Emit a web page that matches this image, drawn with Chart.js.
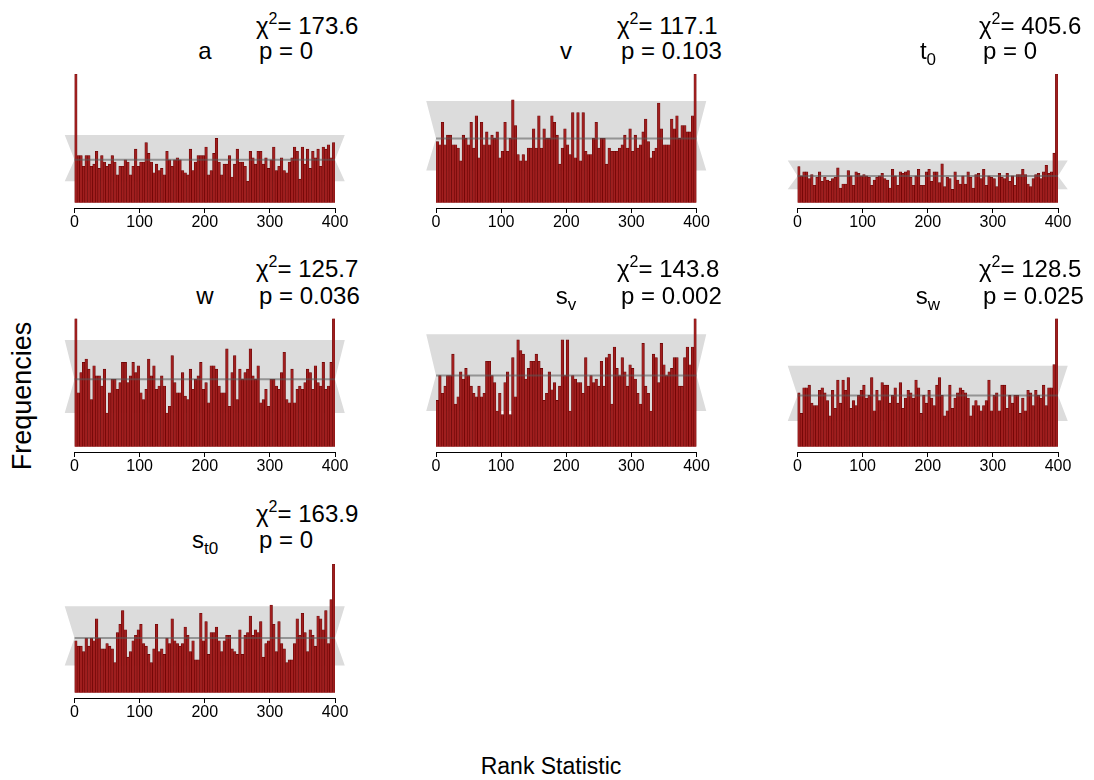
<!DOCTYPE html>
<html>
<head>
<meta charset="utf-8">
<script src="https://cdn.jsdelivr.net/npm/chart.js@4.4.1/dist/chart.umd.min.js"></script>
<style>
  body { margin: 0; background: #fff; }
  #page { position: relative; width: 1094px; height: 780px; background: #fff; overflow: hidden;
          font-family: "Liberation Sans", Arial, sans-serif; color: #000; }
  .cv { position: absolute; }
  .txt { position: absolute; white-space: nowrap; font-size: 24px; line-height: 24px; }
  .ttl { position: absolute; white-space: nowrap; font-size: 24px; line-height: 24px; transform: translateX(-50%); }
  .txt sup { font-size: 16px; vertical-align: 10px; line-height: 0; }
  .ttl sub { font-size: 17px; vertical-align: -6px; line-height: 0; }
  .axlab { position: absolute; white-space: nowrap; line-height: 1; }
</style>
</head>
<body>
<div id="page"></div>
<script>
// rank histogram counts, 100 bins of width 4 over ranks 0..400
const countsA = [60,22,22,17,22,22,17,18,24,16, 22,19,17,18,22,19,13,17,17,20,
  19,13,17,25,17,19,19,28,23,19, 14,18,15,16,13,24,20,17,20,21,
  20,15,14,13,25,15,19,22,22,22, 26,13,15,23,30,19,13,18,18,22,
  12,18,25,19,19,17,10,24,21,18, 24,24,18,21,16,20,26,15,17,21,
  15,14,19,21,26,24,11,26,18,25, 16,24,21,25,17,26,25,27,21,28];
const countsV = [19,18,25,18,21,21,18,18,17,13, 21,20,18,25,17,27,14,25,18,22,
  18,21,20,22,14,16,25,16,20,32, 24,15,13,15,13,17,17,23,17,27,
  17,23,20,20,27,25,21,12,17,23, 18,15,28,14,28,13,28,16,15,15,
  20,25,17,20,20,12,17,16,16,16, 17,18,21,17,23,16,21,17,18,22,
  26,19,14,16,17,31,23,18,18,18, 26,23,27,20,24,24,22,22,27,40];
const countsT0 = [27,20,23,23,18,21,13,19,23,16, 19,17,16,18,19,26,11,14,14,24,
  20,13,23,22,20,21,20,19,13,17, 19,20,22,18,17,11,25,20,13,23,
  22,23,24,19,13,20,25,13,13,23, 25,16,23,23,15,29,12,19,18,10,
  23,17,14,20,14,23,19,11,21,22, 18,25,13,20,19,18,12,22,19,18,
  22,16,20,13,21,21,25,21,14,12, 18,21,22,18,23,28,22,23,37,96];
const countsW = [38,16,22,25,26,23,14,24,21,21, 18,23,10,16,20,20,17,19,25,25,
  19,21,25,22,24,16,14,17,26,21, 24,17,18,21,18,10,12,27,19,16,
  16,22,15,14,23,17,20,21,25,17, 19,13,24,24,23,18,16,16,29,12,
  22,27,14,23,20,22,23,29,21,20, 24,13,14,17,12,20,20,18,17,22,
  28,14,13,23,13,17,18,17,19,23, 22,17,24,19,18,25,17,18,25,38];
const countsSv = [13,20,15,17,20,20,26,12,14,21, 19,22,20,17,15,14,17,14,15,24,
  24,20,18,10,15,9,18,21,9,25, 14,30,27,26,19,22,24,24,26,24,
  22,13,15,21,16,18,13,17,30,20, 30,10,20,19,18,18,15,25,17,20,
  18,19,17,24,17,25,26,12,28,22, 20,25,21,17,23,22,19,15,12,29,
  17,15,10,26,25,18,29,23,20,21, 22,25,25,17,17,25,28,23,28,36];
const countsSw = [21,13,23,23,24,17,16,16,22,23, 21,18,12,22,15,26,17,26,22,27,
  15,18,16,20,22,24,19,20,27,14, 22,18,25,24,24,17,20,23,17,25,
  15,19,22,21,19,26,23,13,20,17, 22,19,16,24,27,20,12,14,24,15,
  19,21,23,22,21,19,12,16,18,16, 14,16,18,26,14,20,21,14,24,24,
  15,20,17,20,20,13,19,14,22,21, 16,22,20,19,24,16,23,23,32,50];
const countsSt0 = [19,17,17,15,20,17,20,19,27,20, 16,16,18,17,16,11,22,25,30,23,
  13,15,19,21,23,25,18,17,14,11, 16,25,15,16,14,20,18,27,19,18,
  17,18,24,21,15,19,12,12,29,19, 26,14,22,22,24,19,15,19,21,21,
  16,15,14,23,14,21,22,28,21,23, 22,26,13,18,19,32,25,15,26,18,
  16,11,12,12,18,27,21,29,22,15, 23,21,17,28,27,23,30,18,34,47];

const binWidth = 4;
const tickLabels = [0, 100, 200, 300, 400];
const panelNames = ['a', 'v', 't<sub>0</sub>', 'w', 's<sub>v</sub>', 's<sub>w</sub>', 's<sub>t0</sub>'];
const chiSq = ['173.6', '117.1', '405.6', '125.7', '143.8', '128.5', '163.9'];
const pValues = ['0', '0.103', '0', '0.036', '0.002', '0.025', '0'];
// uniform expectation and 99% band (counts)
const bandLow = 10, bandMid = 20, bandHigh = 31.6;

const allCounts = [countsA, countsV, countsT0, countsW, countsSv, countsSw, countsSt0];

// layout (pixels)
const colX0 = [74.5, 436, 797.5];
const plotW = 260.5;
const rowTop = [74, 318.5, 564];
const rowBase = [202.3, 447, 692.3];
const rowAxis = [207.5, 452.3, 697.5];
const chiY = [14, 257, 502];
const pY = [39, 284, 528];
const titleX = [205, 566, 928];
const chiX = [256, 617, 979];
const pX = [259, 621, 983];
const FONT = '"Liberation Sans", Arial, sans-serif';
const AXIS_H = 30;

const page = document.getElementById('page');

const bandPlugin = {
  id: 'band',
  beforeDatasetsDraw(chart) {
    const { ctx, scales: { x, y } } = chart;
    ctx.save();
    ctx.fillStyle = '#dcdcdc';
    ctx.beginPath();
    ctx.moveTo(x.getPixelForValue(-15), y.getPixelForValue(bandHigh));
    ctx.lineTo(x.getPixelForValue(0), y.getPixelForValue(bandMid));
    ctx.lineTo(x.getPixelForValue(-15), y.getPixelForValue(bandLow));
    ctx.lineTo(x.getPixelForValue(415), y.getPixelForValue(bandLow));
    ctx.lineTo(x.getPixelForValue(400), y.getPixelForValue(bandMid));
    ctx.lineTo(x.getPixelForValue(415), y.getPixelForValue(bandHigh));
    ctx.closePath();
    ctx.fill();
    ctx.restore();
  },
  afterDatasetsDraw(chart) {
    const { ctx, scales: { x, y } } = chart;
    const yy = y.getPixelForValue(bandMid);
    ctx.save();
    ctx.strokeStyle = 'rgba(90,90,90,0.55)';
    ctx.lineWidth = 2;
    ctx.beginPath();
    ctx.moveTo(x.getPixelForValue(0), yy);
    ctx.lineTo(x.getPixelForValue(400), yy);
    ctx.stroke();
    ctx.restore();
  }
};

function addText(cls, left, top, html) {
  const d = document.createElement('div');
  d.className = cls;
  d.style.left = left + 'px';
  d.style.top = top + 'px';
  d.innerHTML = html;
  page.appendChild(d);
  return d;
}

allCounts.forEach((counts, i) => {
  const col = i % 3, row = Math.floor(i / 3);
  const x0 = colX0[col], top = rowTop[row], base = rowBase[row], axisY = rowAxis[row];
  const yMax = Math.max(...counts);
  const ppc = (base - top) / yMax;
  const yMin = -(axisY - base) / ppc;

  const cLeft = Math.round(x0) - 25;
  const cTop = Math.round(top) - 6;
  const cW = Math.round(plotW) + 50;
  const cH = Math.round(axisY - cTop + AXIS_H);

  const wrap = document.createElement('div');
  wrap.className = 'cv';
  wrap.style.left = cLeft + 'px';
  wrap.style.top = cTop + 'px';
  wrap.style.width = cW + 'px';
  wrap.style.height = cH + 'px';
  const cv = document.createElement('canvas');
  cv.width = cW; cv.height = cH;
  wrap.appendChild(cv);
  page.appendChild(wrap);

  new Chart(cv.getContext('2d'), {
    type: 'bar',
    data: {
      datasets: [{
        data: counts.map((c, k) => ({ x: k * binWidth + binWidth / 2, y: c })),
        backgroundColor: '#a01e1e',
        borderColor: '#660000',
        borderWidth: 0.6,
        barPercentage: 1,
        categoryPercentage: 1
      }]
    },
    options: {
      responsive: false,
      animation: false,
      layout: { padding: { left: x0 - cLeft, right: cW - (x0 - cLeft) - plotW, top: top - cTop, bottom: 0 } },
      plugins: { legend: { display: false }, tooltip: { enabled: false } },
      scales: {
        x: {
          type: 'linear', min: 0, max: 400, offset: false,
          afterBuildTicks: s => { s.ticks = tickLabels.map(v => ({ value: v })); },
          afterFit: s => { s.height = AXIS_H; },
          grid: { display: true, drawOnChartArea: false, drawTicks: true, tickLength: 5, color: '#000', lineWidth: 1, offset: false },
          border: { display: true, color: '#000', width: 1 },
          ticks: { autoSkip: false, maxRotation: 0, padding: 0, color: '#000', font: { family: FONT, size: 16 } }
        },
        y: { display: false, min: yMin, max: yMax }
      }
    },
    plugins: [bandPlugin]
  });

  addText('ttl', titleX[col], pY[row], panelNames[i]);
  addText('txt', chiX[col], chiY[row], '\u03C7<sup>2</sup>= ' + chiSq[i]);
  addText('txt', pX[col], pY[row], 'p = ' + pValues[i]);
});

const yl = addText('axlab', 0, 0, 'Frequencies');
yl.style.fontSize = '27px';
yl.style.left = '22px'; yl.style.top = '396px';
yl.style.transform = 'translate(-50%,-50%) rotate(-90deg)';
const xl = addText('axlab', 0, 0, 'Rank Statistic');
xl.style.fontSize = '23px';
xl.style.left = '551px'; xl.style.top = '766px';
xl.style.transform = 'translate(-50%,-50%)';
</script>
</body>
</html>
